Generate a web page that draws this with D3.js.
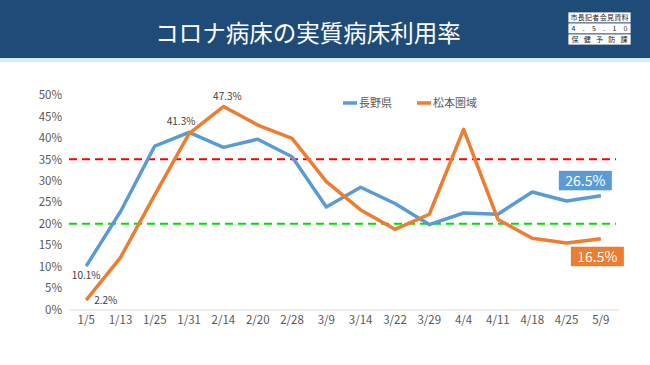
<!DOCTYPE html>
<html><head><meta charset="utf-8">
<script src="https://cdn.jsdelivr.net/npm/d3@7"></script>
<style>html,body{margin:0;padding:0;background:#fff;}svg{display:block;}</style>
</head><body>
<svg id="chart" width="650" height="365"></svg>
<script>
const title = "コロナ病床の実質病床利用率";
const stampRows = ["市長記者会見資料", "4 . 5 . 1 0", "保 健 予 防 課"];
const categories = ["1/5","1/13","1/25","1/31","2/14","2/20","2/28","3/9","3/14","3/22","3/29","4/4","4/11","4/18","4/25","5/9"];
const naganoName = "長野県";
const matsumotoName = "松本圏域";
const nagano = [10.1, 22.8, 38.1, 41.3, 37.8, 39.7, 35.6, 23.9, 28.5, 24.7, 19.8, 22.5, 22.2, 27.4, 25.3, 26.5];
const matsumoto = [2.2, 12.1, 26.7, 41.0, 47.3, 43.0, 39.9, 29.8, 23.2, 18.7, 22.2, 42.0, 21.0, 16.6, 15.5, 16.5];
const yTicks = [0, 5, 10, 15, 20, 25, 30, 35, 40, 45, 50];
const thresholds = [35, 20];

const svg = d3.select("#chart");
const font = "'Noto Sans CJK JP','Noto Sans',sans-serif";

// header
svg.append("rect").attr("x",0).attr("y",0).attr("width",650).attr("height",58).attr("fill","#1f4b79");
svg.append("rect").attr("x",0).attr("y",58).attr("width",650).attr("height",4).attr("fill","#d6ecf3");
svg.append("text").attr("x",308).attr("y",42).attr("text-anchor","middle")
  .attr("fill","#fff").attr("font-family",font).attr("font-size",23.5).text(title);

// stamp
const sx = 568, sy = 12, sw = 63, sh = 11;
stampRows.forEach((t,i)=>{
  svg.append("rect").attr("x",sx).attr("y",sy+i*sh).attr("width",sw).attr("height",sh)
    .attr("fill","#fff").attr("stroke","#1f4b79").attr("stroke-width",0.8);
  svg.append("text").attr("x",sx+sw/2).attr("y",sy+i*sh+8.3).attr("text-anchor","middle")
    .attr("font-family",font).attr("font-size",7).attr("fill","#222")
    .attr("textLength", i===0 ? 58 : 56).attr("lengthAdjust","spacing").text(t);
});

// scales
const x = d3.scaleBand().domain(categories).range([69, 618]);
const y = d3.scaleLinear().domain([0, 50]).range([309.5, 95]);
const cx = d => x(d) + x.bandwidth()/2;

// y axis labels
const yAxis = d3.axisLeft(y).tickValues(yTicks).tickFormat(d => d + "%").tickSize(0).tickPadding(0);
const ya = svg.append("g").attr("transform","translate(62,0)").call(yAxis);
ya.select(".domain").remove();
ya.selectAll("text").attr("fill","#595959").attr("font-family",font).attr("font-size",11.5);

// x axis
const xAxis = d3.axisBottom(x).tickSize(0).tickPadding(6);
const xa = svg.append("g").attr("transform","translate(0,309.5)").call(xAxis);
xa.select(".domain").attr("stroke","#d9d9d9").attr("stroke-width",1);
xa.selectAll("text").attr("fill","#595959").attr("font-family",font).attr("font-size",11.5);

// thresholds
const thColors = ["#ff0000", "#00e000"];
thresholds.forEach((t,i)=>{
  svg.append("line").attr("x1",69).attr("x2",616).attr("y1",y(t)).attr("y2",y(t))
    .attr("stroke",thColors[i]).attr("stroke-width",2).attr("stroke-dasharray","8,5");
});

// series
const line = d3.line().x((d,i)=>cx(categories[i])).y(d=>y(d));
svg.append("path").datum(nagano).attr("d",line).attr("fill","none")
  .attr("stroke","#5b9bd5").attr("stroke-width",3.5).attr("stroke-linejoin","round");
svg.append("path").datum(matsumoto).attr("d",line).attr("fill","none")
  .attr("stroke","#ed7d31").attr("stroke-width",3.5).attr("stroke-linejoin","round");

// data labels
const lab = (tx,ty,t,anchor)=>svg.append("text").attr("x",tx).attr("y",ty).attr("text-anchor",anchor||"middle")
  .attr("font-family",font).attr("font-size",10).attr("fill","#404040").text(t);
lab(cx(categories[0]), y(nagano[0])+13, nagano[0].toFixed(1)+"%");
lab(cx(categories[0])+8, y(matsumoto[0])+4, matsumoto[0].toFixed(1)+"%", "start");
lab(cx(categories[3])-8, y(nagano[3])-7, nagano[3].toFixed(1)+"%");
lab(cx(categories[4])+4, y(matsumoto[4])-7, matsumoto[4].toFixed(1)+"%");

// end callouts
const last = categories.length-1;
function callout(val, color, bx, by){
  const g = svg.append("g");
  g.append("rect").attr("x",bx).attr("y",by).attr("width",53).attr("height",19.5).attr("fill",color);
  g.append("text").attr("x",bx+26.5).attr("y",by+15).attr("text-anchor","middle")
    .attr("font-family",font).attr("font-size",14).attr("fill","#fff").text(val.toFixed(1)+"%");
}
callout(nagano[last], "#5b9bd5", cx(categories[last])-42, y(nagano[last])-25);
callout(matsumoto[last], "#ed7d31", cx(categories[last])-30, y(matsumoto[last])+8);

// legend
const legend = [[naganoName,"#5b9bd5",343],[matsumotoName,"#ed7d31",417]];
legend.forEach(([name,color,lx])=>{
  svg.append("line").attr("x1",lx).attr("x2",lx+14).attr("y1",103).attr("y2",103)
    .attr("stroke",color).attr("stroke-width",3.5);
  svg.append("text").attr("x",lx+16).attr("y",107).attr("font-family",font).attr("font-size",11)
    .attr("fill","#595959").text(name);
});
</script>
</body></html>
